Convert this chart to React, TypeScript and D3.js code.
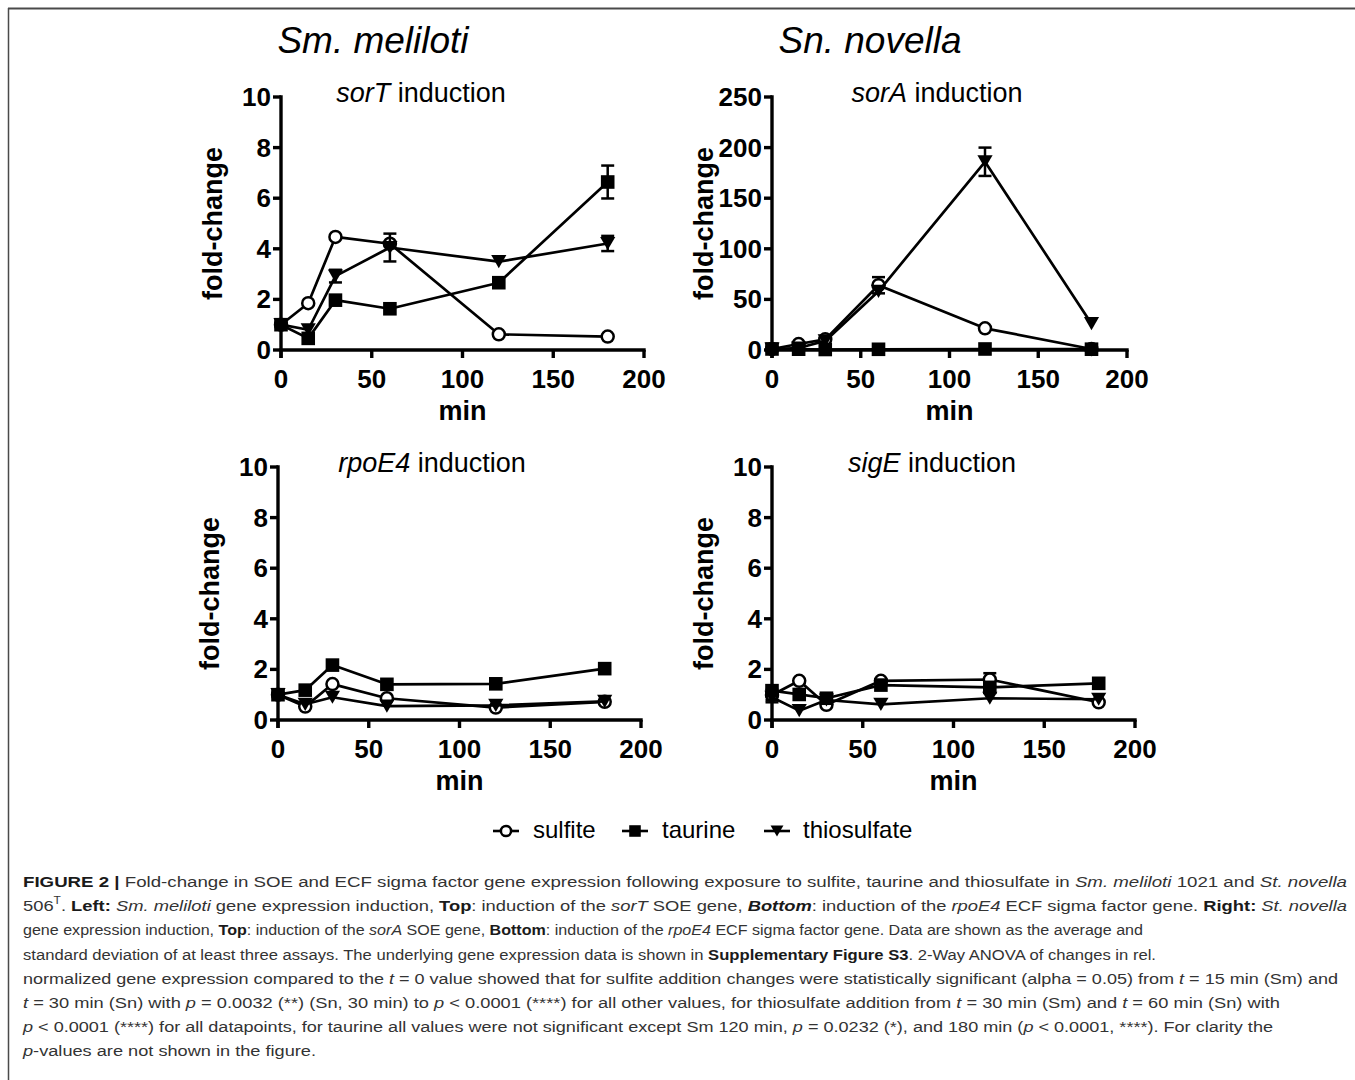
import React from "react";
import * as d3 from "d3";

// ---------- data ----------
const times = [0, 15, 30, 60, 120, 180];
const xTicks = [0, 50, 100, 150, 200];
const yTicks10 = [0, 2, 4, 6, 8, 10];
const yTicks250 = [0, 50, 100, 150, 200, 250];
const seriesNames = ["sulfite", "taurine", "thiosulfate"];

// sorT (Sm. meliloti)
const sorTSulfite = [1.0, 1.85, 4.47, 4.2, 0.62, 0.53];
const sorTSulfiteErr = [0, 0, 0, 0, 0, 0];
const sorTTaurine = [1.0, 0.46, 1.97, 1.63, 2.66, 6.64];
const sorTTaurineErr = [0, 0, 0, 0, 0, 0.65];
const sorTThio = [1.0, 0.8, 2.92, 4.05, 3.49, 4.21];
const sorTThioErr = [0, 0, 0.25, 0.55, 0, 0.3];

// sorA (Sn. novella)
const sorASulfite = [1, 5.9, 10.5, 64, 21.4, 1];
const sorASulfiteErr = [0, 0, 0, 8, 0, 0];
const sorATaurine = [1, 0.8, 0.5, 0.7, 1.0, 0.8];
const sorATaurineErr = [0, 0, 0, 0, 0, 0];
const sorAThio = [1, 2, 9, 58, 186, 26];
const sorAThioErr = [0, 0, 0, 0, 14, 0];

// rpoE4 (Sm. meliloti)
const rpoE4Sulfite = [1.0, 0.53, 1.42, 0.86, 0.49, 0.72];
const rpoE4SulfiteErr = [0, 0, 0, 0, 0, 0];
const rpoE4Taurine = [1.0, 1.18, 2.17, 1.41, 1.43, 2.03];
const rpoE4TaurineErr = [0, 0, 0, 0, 0, 0];
const rpoE4Thio = [1.0, 0.62, 0.9, 0.55, 0.58, 0.74];
const rpoE4ThioErr = [0, 0, 0, 0, 0, 0];

// sigE (Sn. novella)
const sigESulfite = [0.99, 1.55, 0.6, 1.55, 1.6, 0.7];
const sigESulfiteErr = [0.2, 0, 0, 0, 0.25, 0];
const sigETaurine = [1.16, 1.01, 0.86, 1.38, 1.29, 1.45];
const sigETaurineErr = [0, 0, 0, 0, 0, 0];
const sigEThio = [0.9, 0.37, 0.79, 0.62, 0.86, 0.82];
const sigEThioErr = [0.2, 0, 0, 0, 0, 0];

// ---------- layout ----------
const FONT = "'Liberation Sans', Arial, Helvetica, sans-serif";

type Panel = {
  gene: string;
  left: number; right: number; top: number; bottom: number;
  yMax: number; yTicks: number[]; titleX: number;
  series: { values: number[]; err: number[] }[];
};

const panels: Panel[] = [
  { gene: "sorT", left: 281, right: 644, top: 97, bottom: 350, yMax: 10, yTicks: yTicks10, titleX: 421,
    series: [{ values: sorTSulfite, err: sorTSulfiteErr }, { values: sorTTaurine, err: sorTTaurineErr }, { values: sorTThio, err: sorTThioErr }] },
  { gene: "sorA", left: 772, right: 1127, top: 97, bottom: 350, yMax: 250, yTicks: yTicks250, titleX: 937,
    series: [{ values: sorASulfite, err: sorASulfiteErr }, { values: sorATaurine, err: sorATaurineErr }, { values: sorAThio, err: sorAThioErr }] },
  { gene: "rpoE4", left: 278, right: 641, top: 467, bottom: 720, yMax: 10, yTicks: yTicks10, titleX: 432,
    series: [{ values: rpoE4Sulfite, err: rpoE4SulfiteErr }, { values: rpoE4Taurine, err: rpoE4TaurineErr }, { values: rpoE4Thio, err: rpoE4ThioErr }] },
  { gene: "sigE", left: 772, right: 1135, top: 467, bottom: 720, yMax: 10, yTicks: yTicks10, titleX: 932,
    series: [{ values: sigESulfite, err: sigESulfiteErr }, { values: sigETaurine, err: sigETaurineErr }, { values: sigEThio, err: sigEThioErr }] },
];

function Marker({ kind, x, y, s = 1 }: { kind: number; x: number; y: number; s?: number }) {
  if (kind === 0) return <circle cx={x} cy={y} r={6 * s} fill="#fff" stroke="#000" strokeWidth={2.5} />;
  if (kind === 1) { const h = 6.8 * s; return <rect x={x - h} y={y - h} width={2 * h} height={2 * h} fill="#000" />; }
  const w = 7.6 * s, hh = 6.6 * s;
  return <path d={`M${x - w},${y - hh}L${x + w},${y - hh}L${x},${y + hh}Z`} fill="#000" />;
}

function PanelView({ p }: { p: Panel }) {
  const x = d3.scaleLinear().domain([0, 200]).range([p.left, p.right]);
  const y = d3.scaleLinear().domain([0, p.yMax]).range([p.bottom, p.top]);
  const line = d3.line<number>().x((_, i) => x(times[i])).y((v) => y(v));
  const tick = 8;
  return (
    <g>
      <text x={p.titleX} y={p.top + 5} fontFamily={FONT} fontSize={27} textAnchor="middle">
        <tspan fontStyle="italic">{p.gene}</tspan> induction
      </text>
      {/* axes */}
      <line x1={p.left} x2={p.left} y1={p.top - 1.7} y2={p.bottom + tick} stroke="#000" strokeWidth={3.4} />
      <line x1={p.left - 1.7} x2={p.right + 1.7} y1={p.bottom} y2={p.bottom} stroke="#000" strokeWidth={3.4} />
      {p.yTicks.map((t) => (
        <g key={"y" + t}>
          <line x1={p.left - tick} x2={p.left} y1={y(t)} y2={y(t)} stroke="#000" strokeWidth={3.4} />
          <text x={p.left - 10} y={y(t) + 9} fontFamily={FONT} fontWeight="bold" fontSize={26} textAnchor="end">{t}</text>
        </g>
      ))}
      {xTicks.map((t) => (
        <g key={"x" + t}>
          <line x1={x(t)} x2={x(t)} y1={p.bottom} y2={p.bottom + tick} stroke="#000" strokeWidth={3.4} />
          <text x={x(t)} y={p.bottom + 38} fontFamily={FONT} fontWeight="bold" fontSize={26} textAnchor="middle">{t}</text>
        </g>
      ))}
      <text x={(p.left + p.right) / 2} y={p.bottom + 70} fontFamily={FONT} fontWeight="bold" fontSize={27} textAnchor="middle">min</text>
      <text transform={`translate(${p.left - 59},${(p.top + p.bottom) / 2}) rotate(-90)`} fontFamily={FONT} fontWeight="bold" fontSize={27} textAnchor="middle">fold-change</text>
      {/* series */}
      {p.series.map((s, k) => (
        <g key={k}>
          <path d={line(s.values) || ""} fill="none" stroke="#000" strokeWidth={2.7} strokeLinejoin="round" />
          {s.values.map((v, i) =>
            s.err[i] > 0 ? (
              <g key={"e" + i}>
                <line x1={x(times[i])} x2={x(times[i])} y1={y(v - s.err[i])} y2={y(v + s.err[i])} stroke="#000" strokeWidth={2.5} />
                <line x1={x(times[i]) - 6.5} x2={x(times[i]) + 6.5} y1={y(v + s.err[i])} y2={y(v + s.err[i])} stroke="#000" strokeWidth={2.5} />
                <line x1={x(times[i]) - 6.5} x2={x(times[i]) + 6.5} y1={y(v - s.err[i])} y2={y(v - s.err[i])} stroke="#000" strokeWidth={2.5} />
              </g>
            ) : null
          )}
          {s.values.map((v, i) => <Marker key={"m" + i} kind={k} x={x(times[i])} y={y(v)} />)}
        </g>
      ))}
    </g>
  );
}

const legendMarkerX = [506, 635, 777];
const legendTextX = [533, 662, 803];

const captionEnds = [1347, 1347, 1143, 1156, 1338, 1280, 1273, 316];

export default function App() {
  const I = (t: string) => <tspan fontStyle="italic">{t}</tspan>;
  const B = (t: string) => <tspan fontWeight="bold" fill="#1a1a1a">{t}</tspan>;
  const BI = (t: string) => <tspan fontWeight="bold" fontStyle="italic" fill="#1a1a1a">{t}</tspan>;
  const lines: React.ReactNode[] = [
    <>{B("FIGURE 2 | ")}Fold-change in SOE and ECF sigma factor gene expression following exposure to sulfite, taurine and thiosulfate in {I("Sm. meliloti")} 1021 and {I("St. novella")}</>,
    <>506<tspan fontSize={10} dy={-7}>T</tspan><tspan dy={7}>. </tspan>{B("Left:")} {I("Sm. meliloti")} gene expression induction, {B("Top")}: induction of the {I("sorT")} SOE gene, {BI("Bottom")}: induction of the {I("rpoE4")} ECF sigma factor gene. {B("Right:")} {I("St. novella")}</>,
    <>gene expression induction, {B("Top")}: induction of the {I("sorA")} SOE gene, {B("Bottom")}: induction of the {I("rpoE4")} ECF sigma factor gene. Data are shown as the average and</>,
    <>standard deviation of at least three assays. The underlying gene expression data is shown in {B("Supplementary Figure S3")}. 2-Way ANOVA of changes in rel.</>,
    <>normalized gene expression compared to the {I("t")} = 0 value showed that for sulfite addition changes were statistically significant (alpha = 0.05) from {I("t")} = 15 min (Sm) and</>,
    <>{I("t")} = 30 min (Sn) with {I("p")} = 0.0032 (**) (Sn, 30 min) to {I("p")} {"<"} 0.0001 (****) for all other values, for thiosulfate addition from {I("t")} = 30 min (Sm) and {I("t")} = 60 min (Sn) with</>,
    <>{I("p")} {"<"} 0.0001 (****) for all datapoints, for taurine all values were not significant except Sm 120 min, {I("p")} = 0.0232 (*), and 180 min ({I("p")} {"<"} 0.0001, ****). For clarity the</>,
    <>{I("p")}-values are not shown in the figure.</>,
  ];
  return (
    <svg width={1355} height={1080} style={{ position: "absolute", left: 0, top: 0, background: "#fff" }}>
      <rect x={0} y={0} width={1355} height={1080} fill="#fff" />
      <line x1={8} x2={1355} y1={8.5} y2={8.5} stroke="#4a4a4a" strokeWidth={2} />
      <line x1={8.5} x2={8.5} y1={8} y2={1080} stroke="#4a4a4a" strokeWidth={1.5} />
      <text x={373} y={53} fontFamily={FONT} fontStyle="italic" fontSize={37} textAnchor="middle">Sm. meliloti</text>
      <text x={870} y={53} fontFamily={FONT} fontStyle="italic" fontSize={37} textAnchor="middle">Sn. novella</text>
      {panels.map((p) => <PanelView key={p.gene} p={p} />)}
      {/* legend */}
      {seriesNames.map((n, k) => (
        <g key={n}>
          <line x1={legendMarkerX[k] - 13} x2={legendMarkerX[k] + 13} y1={831} y2={831} stroke="#000" strokeWidth={2.6} />
          <Marker kind={k} x={legendMarkerX[k]} y={831} s={0.85} />
          <text x={legendTextX[k]} y={838} fontFamily={FONT} fontSize={24}>{n}</text>
        </g>
      ))}
      {/* caption */}
      {lines.map((l, i) => (
        <text key={i} x={23} y={887 + i * 24.2} fontFamily={FONT} fontSize={15.3} fill="#333"
          textLength={captionEnds[i] - 23} lengthAdjust="spacingAndGlyphs">{l}</text>
      ))}
    </svg>
  );
}
